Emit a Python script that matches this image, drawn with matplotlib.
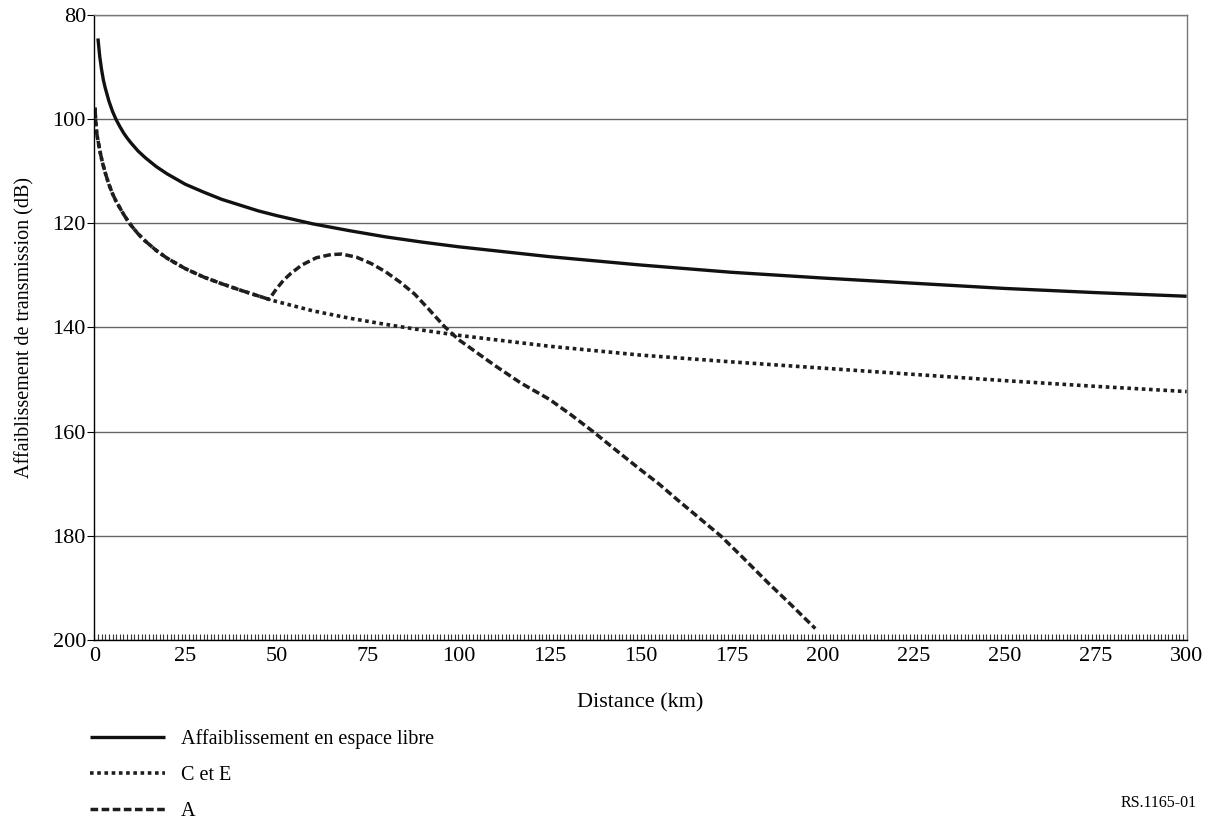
import matplotlib
matplotlib.use('Agg')
import matplotlib.pyplot as plt
from matplotlib.ticker import MultipleLocator

plt.rcParams['font.family'] = ['Liberation Serif', 'DejaVu Serif']

# free space loss (solid)
fs_dist = [1, 1.5, 2, 2.5, 3, 4, 5, 6, 7, 8, 9, 10, 12, 14, 17, 20, 25, 30, 35,
           40, 45, 50, 60, 70, 80, 90, 100, 125, 150, 175, 200, 225, 250, 275, 300]
fs_loss = [84.5, 88.0, 90.5, 92.5, 94.0, 96.5, 98.5, 100.1, 101.4, 102.6, 103.6,
           104.5, 106.1, 107.4, 109.1, 110.5, 112.5, 114.0, 115.4, 116.5, 117.6,
           118.5, 120.1, 121.4, 122.6, 123.6, 124.5, 126.4, 128.0, 129.4, 130.5,
           131.5, 132.5, 133.3, 134.0]

# C et E (dotted)
ce_dist = [0.2, 0.4, 0.6, 0.8, 1, 1.5, 2, 2.5, 3, 4, 5, 6, 7, 8, 9, 10, 12, 14,
           17, 20, 25, 30, 35, 40, 44, 48, 50, 60, 70, 80, 90, 100, 125, 150,
           175, 200, 225, 250, 275, 300]
ce_loss = [97.8, 100.5, 102.3, 103.3, 104.0, 106.0, 107.6, 109.0, 110.3, 112.5,
           114.3, 115.8, 117.0, 118.2, 119.3, 120.3, 122.0, 123.4, 125.2, 126.7,
           128.7, 130.3, 131.6, 132.8, 133.7, 134.6, 135.0, 136.8, 138.2, 139.4,
           140.5, 141.5, 143.6, 145.3, 146.6, 147.8, 149.0, 150.2, 151.3, 152.3]

# A (dashed)
a_dist = [0.2, 0.4, 0.6, 0.8, 1, 1.5, 2, 2.5, 3, 4, 5, 6, 7, 8, 9, 10, 12, 14,
          17, 20, 25, 30, 35, 40, 44, 48, 50, 52, 54, 57, 61, 65, 68, 72, 76,
          80, 84, 88, 92, 96, 100, 105, 110, 117, 125, 131, 137, 143, 150, 155,
          160, 166, 172, 178, 185, 191, 198]
a_loss = [97.8, 100.5, 102.3, 103.3, 104.0, 106.0, 107.6, 109.0, 110.3, 112.5,
          114.3, 115.8, 117.0, 118.2, 119.3, 120.3, 122.0, 123.4, 125.2, 126.7,
          128.7, 130.3, 131.6, 132.8, 133.7, 134.6, 132.6, 130.9, 129.6, 128.0,
          126.6, 126.0, 125.9, 126.5, 127.7, 129.3, 131.3, 133.6, 136.6, 139.7,
          142.3, 144.8, 147.3, 150.6, 153.8, 156.8, 160.0, 163.4, 167.3, 170.0,
          173.0, 176.5, 180.0, 184.1, 189.0, 193.0, 197.8]

labels = ['Affaiblissement en espace libre', 'C et E', 'A']
y_ticks = [80, 100, 120, 140, 160, 180, 200]
x_ticks = [0, 25, 50, 75, 100, 125, 150, 175, 200, 225, 250, 275, 300]

fig = plt.figure(figsize=(12.18, 8.22), dpi=100)
ax = fig.add_axes([94.3 / 1218, 1 - 640 / 822, (1186.7 - 94.3) / 1218, 625 / 822])

l1, = ax.plot(fs_dist, fs_loss, color='#111111', lw=2.4, solid_capstyle='butt')
l2, = ax.plot(ce_dist, ce_loss, color='#1e1e1e', lw=2.6, linestyle=(0, (1, 1)),
              dash_capstyle='butt')
l3, = ax.plot(a_dist, a_loss, color='#1e1e1e', lw=2.5, linestyle=(0, (2.2, 1.0)),
              dash_capstyle='butt')

ax.set_xlim(0, 300)
ax.set_ylim(200, 80)
ax.set_yticks(y_ticks)
ax.set_xticks(x_ticks)
ax.xaxis.set_minor_locator(MultipleLocator(1))
ax.grid(axis='y', color='#666666', lw=1.0)
ax.set_axisbelow(True)

ax.tick_params(axis='x', which='both', direction='in', length=4, width=0.8,
               labelsize=16, pad=5, color='#333333')
ax.tick_params(axis='y', which='major', direction='out', length=5, width=0.8,
               labelsize=16, pad=1)

ax.spines['top'].set_color('#777777')
ax.spines['right'].set_color('#777777')
ax.spines['left'].set_color('black')
ax.spines['bottom'].set_color('black')
for s in ax.spines.values():
    s.set_linewidth(1.0)

ax.set_xlabel('Distance (km)', fontsize=16, labelpad=20)
ax.set_ylabel('Affaiblissement de transmission (dB)', fontsize=14.5, labelpad=13)

fig.legend([l1, l2, l3], labels, loc='upper left',
           bbox_to_anchor=(90 / 1218, 1 - 729 / 822), frameon=False,
           fontsize=14.5, handlelength=3.7, handletextpad=0.8,
           labelspacing=0.85, borderpad=0, borderaxespad=0)

fig.text(1197 / 1218, 1 - 803 / 822, 'RS.1165-01', fontsize=11.5,
         ha='right', va='center')

fig.savefig('out.png', dpi=100)
